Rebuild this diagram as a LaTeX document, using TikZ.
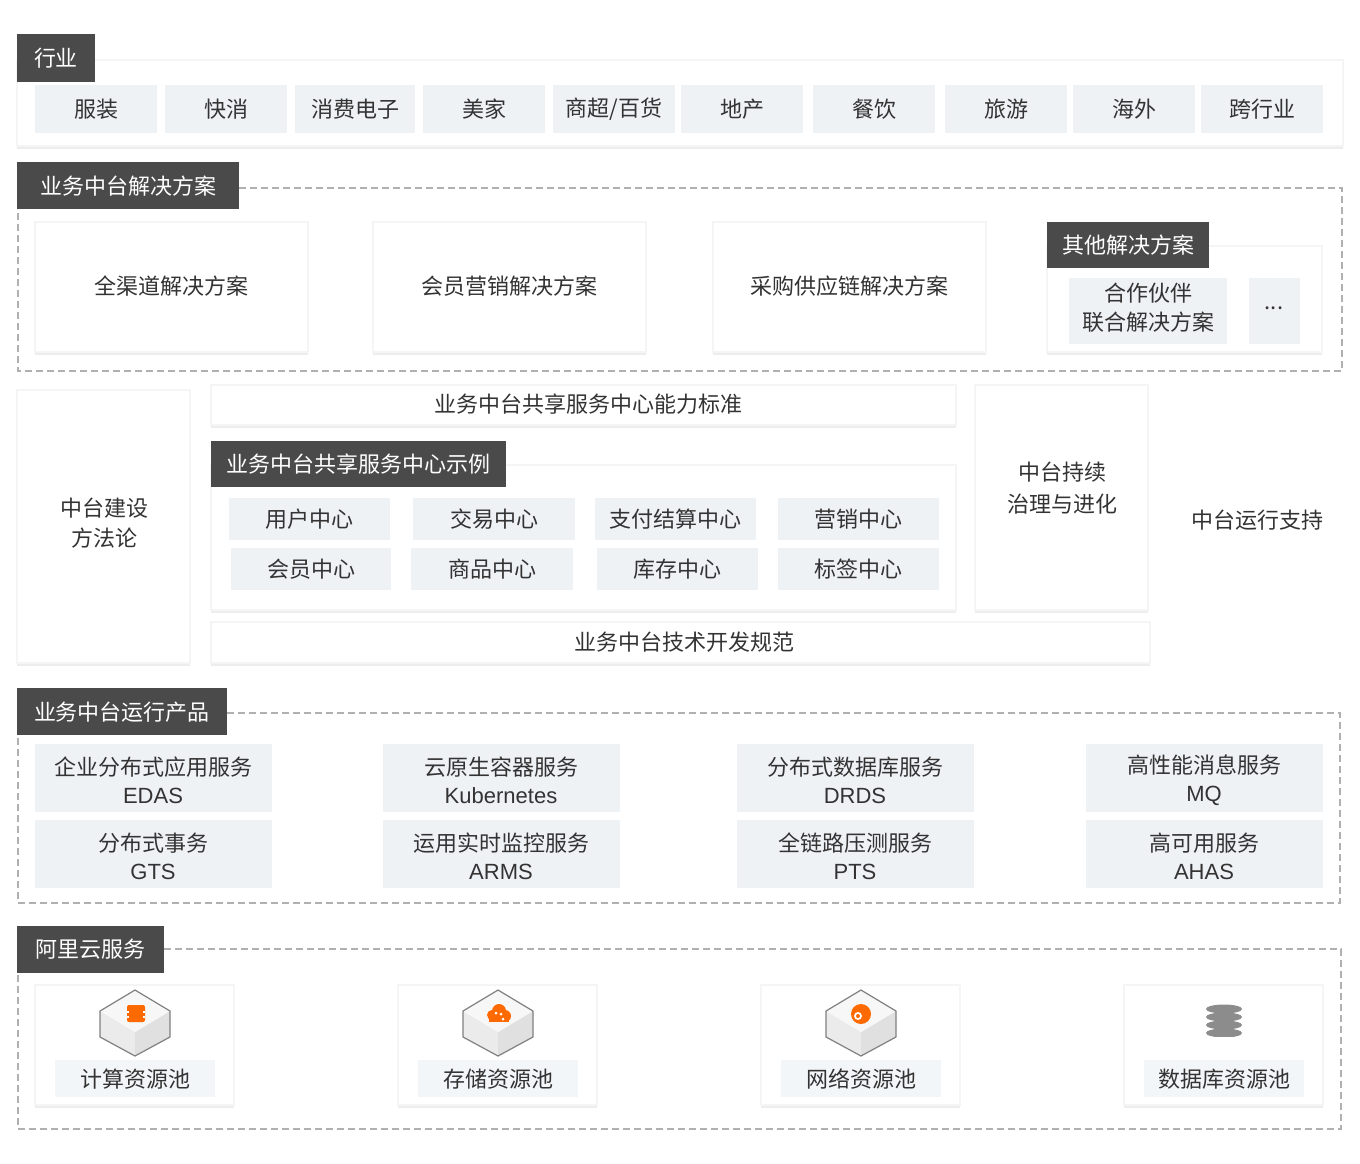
\documentclass[tikz,border=0pt]{standalone}
\usepackage{fontspec}
\setmainfont{Noto Sans CJK SC}
\usetikzlibrary{shadows}
\definecolor{hdr}{HTML}{4A4A4A}
\definecolor{lite}{HTML}{EEF2F5}
\definecolor{txt}{HTML}{333333}
\definecolor{dsh}{HTML}{B0B0B0}
\definecolor{org}{HTML}{FF6A00}
\tikzset{
 x=1pt,y=-1pt,
 card/.style={fill=white,draw=black!4,line width=1.5pt,drop shadow={shadow xshift=0pt,shadow yshift=-3pt,opacity=0.07,fill=black}},
 hdrbox/.style={fill=hdr,text=white,inner sep=0pt,font=\fontsize{22}{24}\selectfont},
 lbl/.style={text=txt,font=\fontsize{22}{26}\selectfont,align=center},
 dbox/.style={draw=dsh,line width=1.5pt,dash pattern=on 7pt off 4pt},
}
\begin{document}
\begin{tikzpicture}
\useasboundingbox (0,0) rectangle (1360,1164);
% industry
\filldraw[card] (17,60) rectangle (1343,146);
\fill[hdr] (17,34) rectangle (95,82); \node[hdrbox] (h1) at (56,58) {行业};
\foreach \a/\b/\t [count=\i] in {35/157/服装,165/287/快消,295/415/消费电子,423/545/美家,553/675/{商超/百货},681/803/地产,813/935/餐饮,945/1067/旅游,1073/1195/海外,1201/1323/跨行业}{
 \fill[lite] (\a,85) rectangle (\b,133);
 \node[lbl] (ind\i) at ({(\a+\b)/2},109) {\t};}
% solutions
\draw[dbox] (239,188) -- (1342,188) -- (1342,371) -- (18,371) -- (18,209);
\fill[hdr] (17,162) rectangle (239,209); \node[hdrbox] (h2) at (128,186) {业务中台解决方案};
\foreach \a/\t [count=\i] in {35/全渠道解决方案,373/会员营销解决方案,713/采购供应链解决方案}{
 \filldraw[card] (\a,222) rectangle ({\a+273},352);
 \node[lbl] (sol\i) at ({\a+136},286) {\t};}
\filldraw[card] (1047,246) rectangle (1322,352);
\fill[hdr] (1047,222) rectangle (1209,268); \node[hdrbox] (h2b) at (1128,245) {其他解决方案};
\fill[lite] (1069,278) rectangle (1227,344); \node[lbl,font=\fontsize{22}{29}\selectfont] (sol4) at (1148,308) {合作伙伴\\联合解决方案};
\fill[lite] (1249,278) rectangle (1300,344); \node[lbl] (sol5) at (1274,308) {...};
% middle
\filldraw[card] (17,390) rectangle (190,663); \node[lbl,font=\fontsize{22}{30}\selectfont] (m1) at (104,523) {中台建设\\方法论};
\filldraw[card] (211,385) rectangle (956,425); \node[lbl] (m2) at (588,404) {业务中台共享服务中心能力标准};
\filldraw[card] (211,465) rectangle (956,610);
\fill[hdr] (211,441) rectangle (506,487); \node[hdrbox] (h3) at (358,464) {业务中台共享服务中心示例};
\foreach \a/\b/\t [count=\i] in {229/390/用户中心,413/575/交易中心,595/756/支付结算中心,778/939/营销中心}{
 \fill[lite] (\a,498) rectangle (\b,540); \node[lbl] (c\i) at ({(\a+\b)/2},519) {\t};}
\foreach \a/\b/\t [count=\i] in {231/391/会员中心,411/573/商品中心,597/758/库存中心,778/939/标签中心}{
 \fill[lite] (\a,548) rectangle (\b,590); \node[lbl] (d\i) at ({(\a+\b)/2},569) {\t};}
\filldraw[card] (975,385) rectangle (1148,610); \node[lbl,font=\fontsize{22}{32}\selectfont] (m3) at (1062,488) {中台持续\\治理与进化};
\filldraw[card] (211,622) rectangle (1150,663); \node[lbl] (m4) at (684,642) {业务中台技术开发规范};
\node[lbl] (m5) at (1257,520) {中台运行支持};
% products
\draw[dbox] (227,713) -- (1340,713) -- (1340,903) -- (18,903) -- (18,735);
\fill[hdr] (17,688) rectangle (227,735); \node[hdrbox] (h4) at (122,712) {业务中台运行产品};
\foreach \a/\t/\u/\v/\w [count=\i] in {35/企业分布式应用服务/EDAS/分布式事务/GTS,383/云原生容器服务/Kubernetes/运用实时监控服务/ARMS,737/分布式数据库服务/DRDS/全链路压测服务/PTS,1086/高性能消息服务/MQ/高可用服务/AHAS}{
 \fill[lite] (\a,744) rectangle ({\a+237},812);
 \node[lbl,font=\fontsize{22}{28}\selectfont] (p\i) at ({\a+118},780) {\t\\\fontspec{Liberation Sans}\u};
 \fill[lite] (\a,820) rectangle ({\a+237},888);
 \node[lbl,font=\fontsize{22}{28}\selectfont] (q\i) at ({\a+118},856) {\v\\\fontspec{Liberation Sans}\w};}
% aliyun
\draw[dbox] (164,949) -- (1341,949) -- (1341,1129) -- (18,1129) -- (18,973);
\fill[hdr] (17,926) rectangle (164,973); \node[hdrbox] (h5) at (90,949) {阿里云服务};
\foreach \a/\t [count=\i] in {35/计算资源池,398/存储资源池,761/网络资源池,1124/数据库资源池}{
 \filldraw[card] (\a,985) rectangle ({\a+199},1105);
 \fill[lite!70!white] ({\a+20},1060) rectangle ({\a+180},1097);
 \node[lbl] (r\i) at ({\a+100},1079) {\t};}
\foreach \c in {135,498,861}{
 \fill[white!92!black] (\c-35,1011) -- (\c,1032) -- (\c,1056) -- (\c-35,1037) -- cycle;
 \fill[white!88!black] (\c+35,1011) -- (\c,1032) -- (\c,1056) -- (\c+35,1037) -- cycle;
 \fill[white!97!black] (\c,990) -- (\c+35,1011) -- (\c,1032) -- (\c-35,1011) -- cycle;
 \draw[gray,line width=1.2pt,line join=round] (\c,990) -- (\c+35,1011) -- (\c+35,1037) -- (\c,1056) -- (\c-35,1037) -- (\c-35,1011) -- cycle;
}
% icons
\fill[org,rounded corners=2pt] (127,1005) rectangle (145,1022);
\fill[white] (127,1011) rectangle (129,1013);\fill[white] (143,1011) rectangle (145,1013);
\fill[white] (127,1016) rectangle (129,1018);\fill[white] (143,1016) rectangle (145,1018);
\fill[org] (492,1015) circle (5); \fill[org] (499,1011) circle (7); \fill[org] (505,1016) circle (6); \fill[org] (489,1016) rectangle (509,1022);
\fill[white] (496,1013) circle (1.5); \fill[white] (501,1014) circle (1.5); \fill[white] (503,1019) circle (1.5);
\fill[org] (861,1014) circle (10); \fill[white] (858,1016) circle (4); \fill[org] (858,1016) circle (2);
\foreach \y in {1009,1017,1025,1033}{ \fill[gray!90] (1224,\y) ellipse (18 and 4.5); \fill[white] (1206,\y+4) rectangle (1242,\y+5.5); }
\end{tikzpicture}
\end{document}
